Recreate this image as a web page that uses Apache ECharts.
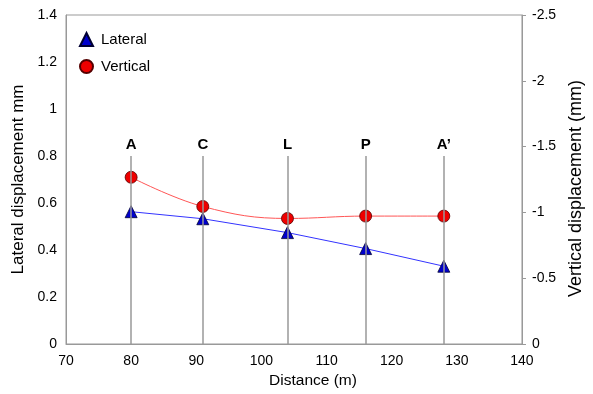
<!DOCTYPE html>
<html>
<head>
<meta charset="utf-8">
<script src="https://cdn.jsdelivr.net/npm/echarts@6/dist/echarts.min.js"></script>
<style>
  html, body { margin: 0; padding: 0; background: #fff; }
  #main { width: 593px; height: 394px; }
</style>
</head>
<body>
<div id="main"></div>
<script>
// section positions along the profile (m) and their names
var distances = [80, 91, 104, 116, 128];
var sections = ['A', 'C', 'L', 'P', 'A\u2019'];
// lateral displacement (mm), left axis
var lateral = [0.563, 0.533, 0.474, 0.406, 0.331];
// vertical displacement (mm), right axis (inverted)
var vertical = [-1.267, -1.045, -0.954, -0.972, -0.972];
// height reached by the section marker lines (left axis units)
var sectionTop = 0.8;

var myChart = echarts.init(document.getElementById('main'));

var lateralData = distances.map(function (d, i) { return [d, lateral[i]]; });
var verticalData = distances.map(function (d, i) { return [d, vertical[i]]; });
var sectionLines = distances.map(function (d, i) {
    return [
        { coord: [d, 0] },
        { coord: [d, sectionTop], name: sections[i] }
    ];
});

var font = 'Liberation Sans, Arial, sans-serif';

var option = {
    animation: false,
    textStyle: { fontFamily: font },
    grid: {
        left: 66, right: 71, top: 15, bottom: 48,
        show: true, borderColor: '#999', borderWidth: 1
    },
    legend: {
        orient: 'vertical',
        left: 74, top: 27,
        itemGap: 12,
        itemWidth: 13, itemHeight: 13,
        textStyle: { fontSize: 15, color: '#000', fontFamily: font, padding: [0, 0, 0, 3] },
        data: [
            { name: 'Lateral', icon: 'triangle' },
            { name: 'Vertical', icon: 'circle' }
        ]
    },
    xAxis: {
        type: 'value',
        min: 70, max: 140, interval: 10,
        name: 'Distance (m)',
        nameLocation: 'middle',
        nameGap: 29,
        nameTextStyle: { fontSize: 15.5, color: '#000', padding: [0, 0, 0, 38] },
        axisLine: { lineStyle: { color: '#999' } },
        axisTick: { show: false },
        splitLine: { show: false },
        axisLabel: { fontSize: 14, color: '#000', margin: 10 }
    },
    yAxis: [{
        type: 'value',
        min: 0, max: 1.4, interval: 0.2,
        name: 'Lateral displacement mm',
        nameLocation: 'middle',
        nameGap: 34,
        nameTextStyle: { fontSize: 17, color: '#000' },
        axisLine: { show: true, lineStyle: { color: '#999' } },
        axisTick: { show: false },
        splitLine: { show: false },
        axisLabel: { fontSize: 14, color: '#000', margin: 9 }
    }, {
        type: 'value',
        min: -2.5, max: 0, interval: 0.5,
        inverse: true,
        position: 'right',
        name: 'Vertical displacement (mm)',
        nameLocation: 'middle',
        nameGap: 44,
        nameRotate: 90,
        nameTextStyle: { fontSize: 18, color: '#000', padding: [0, 18, 0, 0] },
        axisLine: { show: true, lineStyle: { color: '#999' } },
        axisTick: { show: true, inside: false, length: 4, lineStyle: { color: '#999' } },
        splitLine: { show: false },
        axisLabel: { fontSize: 14, color: '#000', margin: 10 }
    }],
    series: [{
        name: 'Lateral',
        type: 'line',
        yAxisIndex: 0,
        data: lateralData,
        symbol: 'triangle',
        symbolSize: 12,
        z: 4,
        lineStyle: { color: '#3333ff', width: 1 },
        itemStyle: { color: '#0000cc', borderColor: '#000033', borderWidth: 0.8 },
        markLine: {
            silent: true,
            symbol: ['none', 'none'],
            lineStyle: { color: '#999', type: 'solid', width: 1.5 },
            label: {
                show: true,
                position: 'end',
                formatter: '{b}',
                fontSize: 15,
                fontWeight: 'bold',
                color: '#000',
                distance: 4
            },
            data: sectionLines
        }
    }, {
        name: 'Vertical',
        type: 'line',
        yAxisIndex: 1,
        data: verticalData,
        smooth: 0.4,
        symbol: 'circle',
        symbolSize: 12,
        z: 4,
        lineStyle: { color: '#ff5555', width: 1 },
        itemStyle: { color: '#ee0000', borderColor: '#550000', borderWidth: 0.8 }
    }]
};
myChart.setOption(option);
</script>
</body>
</html>
